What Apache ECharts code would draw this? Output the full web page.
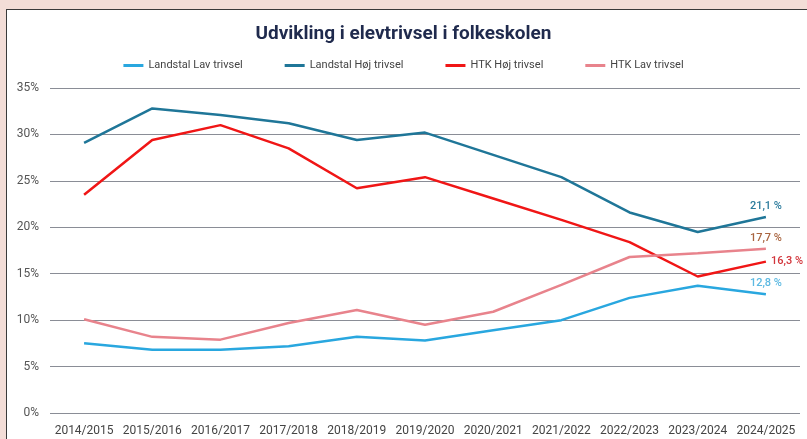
<!DOCTYPE html>
<html>
<head>
<meta charset="utf-8">
<script src="https://cdn.jsdelivr.net/npm/echarts@6/dist/echarts.min.js"></script>
<style>
  html, body { margin: 0; padding: 0; background: #f3ddd7; overflow: hidden; }
  #panel { position: absolute; left: 6px; top: 9px; width: 830px; height: 460px; background: #fff; border: 1.5px solid #3a3a3a; }
  #chart { position: absolute; left: 0; top: 0; width: 807px; height: 439px; }
</style>
</head>
<body>
<div id="panel"></div>
<div id="chart"></div>
<script>
var years = ['2014/2015', '2015/2016', '2016/2017', '2017/2018', '2018/2019', '2019/2020',
             '2020/2021', '2021/2022', '2022/2023', '2023/2024', '2024/2025'];
var landstalLav = [7.5, 6.8, 6.8, 7.2, 8.2, 7.8, 8.9, 10.0, 12.4, 13.7, 12.8];
var landstalHoj = [29.1, 32.8, 32.1, 31.2, 29.4, 30.2, 27.8, 25.4, 21.6, 19.5, 21.1];
var htkHoj = [23.5, 29.4, 31.0, 28.5, 24.2, 25.4, 23.1, 20.8, 18.4, 14.7, 16.3];
var htkLav = [10.1, 8.2, 7.9, 9.7, 11.1, 9.5, 10.9, 13.8, 16.8, 17.2, 17.7];
var yTicks = [0, 5, 10, 15, 20, 25, 30, 35];

function lastLabel(color, pos, offset) {
    return {
        show: true,
        position: pos,
        offset: offset,
        color: color,
        fontFamily: 'Roboto',
        fontSize: 11,
        fontWeight: 500,
        formatter: function (p) {
            if (p.dataIndex !== years.length - 1) return '';
            return String(p.value).replace('.', ',') + ' %';
        }
    };
}

function mkSeries(name, data, color, label) {
    return {
        name: name,
        type: 'line',
        data: data,
        symbol: 'circle',
        symbolSize: 0.1,
        showSymbol: true,
        lineStyle: { color: color, width: 2.5 },
        itemStyle: { color: color },
        label: label,
        labelLayout: { hideOverlap: false },
        animation: false
    };
}

var option = {
    title: {
        text: 'Udvikling i elevtrivsel i folkeskolen',
        left: 'center',
        top: 20,
        textStyle: { fontFamily: 'Roboto', fontSize: 19, fontWeight: 'bold', color: '#1f2a4d' }
    },
    legend: {
        top: 55,
        left: 'center',
        icon: 'rect',
        itemWidth: 20,
        itemHeight: 3,
        itemGap: 42,
        textStyle: { fontFamily: 'Roboto', fontSize: 11, color: '#444' },
        data: ['Landstal Lav trivsel', 'Landstal Høj trivsel', 'HTK Høj trivsel', 'HTK Lav trivsel']
    },
    grid: { left: 50, right: 7, top: 88, bottom: 26 },
    xAxis: {
        type: 'category',
        data: years,
        axisLine: { show: false },
        axisTick: { show: false },
        axisLabel: { fontFamily: 'Roboto', fontSize: 12, color: '#444', margin: 12, interval: 0 }
    },
    yAxis: {
        type: 'value',
        min: yTicks[0],
        max: yTicks[yTicks.length - 1],
        interval: 5,
        axisLabel: { fontFamily: 'Roboto', fontSize: 12, color: '#555', margin: 11, formatter: '{value}%' },
        splitLine: { lineStyle: { color: '#8a8d96', width: 1 } }
    },
    series: [
        mkSeries('Landstal Lav trivsel', landstalLav, '#29a7df', lastLabel('#5cb9e2', 'top', [0, -2])),
        mkSeries('Landstal Høj trivsel', landstalHoj, '#1f7698', lastLabel('#2b7b9c', 'top', [-8, -2])),
        mkSeries('HTK Høj trivsel', htkHoj, '#f01616', lastLabel('#d2353b', 'right', [2, 1])),
        mkSeries('HTK Lav trivsel', htkLav, '#e8838c', lastLabel('#a9643f', 'top', [2, -1]))
    ]
};

var myChart = echarts.init(document.getElementById('chart'));
myChart.setOption(option);
</script>
</body>
</html>
